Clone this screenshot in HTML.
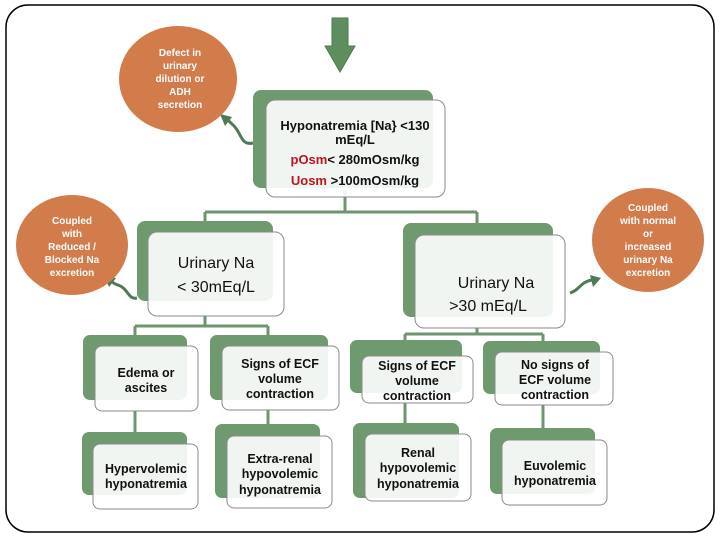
<!DOCTYPE html>
<html><head><meta charset="utf-8"><style>
html,body{margin:0;padding:0;background:#fff}
svg{display:block}
text{font-family:"Liberation Sans",Arial,sans-serif}
.b{font-weight:bold;font-size:12.5px;fill:#111}
.c{font-weight:bold;font-size:10px;fill:#fff}
.u{font-size:16px;fill:#111}
</style></head><body>
<svg width="720" height="540" viewBox="0 0 720 540" xmlns="http://www.w3.org/2000/svg">
<rect x="6" y="5" width="708" height="527" rx="22" fill="#fff" stroke="#000" stroke-width="1.5"/>
<polygon points="332,18 348,18 348,46 355,46 340,72 325,46 332,46" fill="#5e8e5e" stroke="#4e7a4e"/>
<g stroke="#6e9470" stroke-width="3" fill="none">
<path d="M345 190 V212 M205 212 H477 M205 212 V222 M477 212 V224"/>
<path d="M205 316 V326 M135 326 H268 M135 326 V336 M268 326 V336"/>
<path d="M477 328 V334 M405 334 H543 M405 334 V340 M543 334 V342"/>
<path d="M135 411 V433 M268 410 V425 M405 403 V424 M543 405 V429"/>
</g>
<g stroke="#4e7a56" stroke-width="3" fill="none">
<path d="M253 143 C240 146 242 132 232 124 C228 121 228 119 226 118"/>
<path d="M137 298 C128 300 128 288 118 285 C114 284 112 282 110 280"/>
<path d="M570 293 C580 290 580 282 592 280"/>
</g>
<g fill="#4e7a56">
<polygon points="220,114 232,117 225,126"/>
<polygon points="104,276 116,278 109,287"/>
<polygon points="601,278 590,275 593,287"/>
</g>
<g fill="#d27b4b">
<ellipse cx="178" cy="79" rx="59" ry="53"/>
<ellipse cx="72" cy="245" rx="56" ry="50"/>
<ellipse cx="648" cy="240" rx="56" ry="52"/>
</g>
<g class="c" text-anchor="middle">
<text x="180" y="56">Defect in</text><text x="180" y="69">urinary</text><text x="180" y="82">dilution or</text><text x="180" y="95">ADH</text><text x="180" y="108">secretion</text>
<text x="72" y="224">Coupled</text><text x="72" y="237">with</text><text x="72" y="250">Reduced /</text><text x="72" y="263">Blocked Na</text><text x="72" y="276">excretion</text>
<text x="648" y="211">Coupled</text><text x="648" y="224">with normal</text><text x="648" y="237">or</text><text x="648" y="250">increased</text><text x="648" y="263">urinary Na</text><text x="648" y="276">excretion</text>
</g>
<g fill="#6f9a70">
<rect x="253" y="90" width="180" height="98" rx="8"/>
<rect x="137" y="221" width="136" height="80" rx="8"/>
<rect x="403" y="223" width="150" height="94" rx="8"/>
<rect x="83" y="335" width="104" height="65" rx="7"/>
<rect x="210" y="335" width="118" height="65" rx="7"/>
<rect x="350" y="340" width="112" height="53" rx="7"/>
<rect x="483" y="341" width="117" height="53" rx="7"/>
<rect x="82" y="432" width="105" height="63" rx="7"/>
<rect x="215" y="424" width="105" height="74" rx="7"/>
<rect x="353" y="423" width="106" height="75" rx="7"/>
<rect x="490" y="428" width="105" height="66" rx="7"/>
</g>
<g fill="#fff" fill-opacity="0.9" stroke="#8a8a8a" stroke-width="1">
<rect x="266" y="100" width="179" height="97" rx="9"/>
<rect x="148" y="232" width="136" height="84" rx="9"/>
<rect x="415" y="235" width="150" height="93" rx="9"/>
<rect x="95" y="346" width="103" height="65" rx="7"/>
<rect x="222" y="346" width="117" height="64" rx="7"/>
<rect x="362" y="356" width="111" height="47" rx="7"/>
<rect x="495" y="352" width="118" height="53" rx="7"/>
<rect x="93" y="444" width="105" height="65" rx="7"/>
<rect x="227" y="436" width="105" height="72" rx="7"/>
<rect x="365" y="434" width="106" height="67" rx="7"/>
<rect x="502" y="440" width="105" height="65" rx="7"/>
</g>
<g class="b" text-anchor="middle">
<text x="355" y="130" font-size="13">Hyponatremia [Na} &lt;130</text>
<text x="355" y="144" font-size="13">mEq/L</text>
<text x="355" y="164" font-size="13"><tspan fill="#c0141c">pOsm</tspan>&lt; 280mOsm/kg</text>
<text x="355" y="185" font-size="13"><tspan fill="#c0141c">Uosm</tspan> &gt;100mOsm/kg</text>
<text x="146" y="377">Edema or</text><text x="146" y="392">ascites</text>
<text x="280" y="368">Signs of ECF</text><text x="280" y="383">volume</text><text x="280" y="398">contraction</text>
<text x="417" y="370">Signs of ECF</text><text x="417" y="385">volume</text><text x="417" y="400">contraction</text>
<text x="555" y="369">No signs of</text><text x="555" y="384">ECF volume</text><text x="555" y="399">contraction</text>
<text x="146" y="473">Hypervolemic</text><text x="146" y="488">hyponatremia</text>
<text x="280" y="463">Extra-renal</text><text x="280" y="478">hypovolemic</text><text x="280" y="494">hyponatremia</text>
<text x="418" y="457">Renal</text><text x="418" y="472">hypovolemic</text><text x="418" y="488">hyponatremia</text>
<text x="555" y="470">Euvolemic</text><text x="555" y="485">hyponatremia</text>
</g>
<g class="u" text-anchor="middle">
<text x="216" y="268">Urinary Na</text><text x="216" y="292">&lt; 30mEq/L</text>
<text x="496" y="288">Urinary Na</text><text x="488" y="311">&gt;30 mEq/L</text>
</g>
</svg>
</body></html>
